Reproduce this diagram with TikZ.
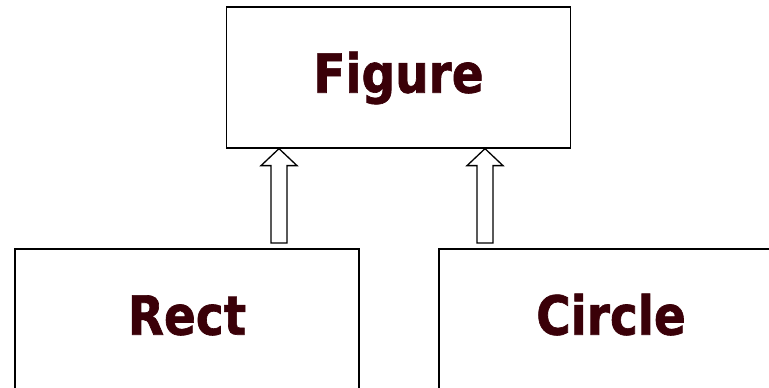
\documentclass[tikz,border=0pt]{standalone}
\usepackage{fontspec}
\newfontfamily\lblfont[FakeStretch=0.87,FakeBold=1.2]{DejaVu Sans}
\definecolor{txtcol}{HTML}{3A0008}
\tikzset{
  box/.style={draw=black, line width=1.3pt, fill=white, minimum width=344pt, minimum height=141pt,
    inner sep=0pt, font=\lblfont\bfseries\fontsize{54}{60}\selectfont, text=txtcol,
    text height=39.4pt, text depth=9pt},
  blockarrow/.style={draw=black, line width=1.3pt, fill=white, line join=miter}
}
\begin{document}
\begin{tikzpicture}[x=1pt,y=1pt]
\useasboundingbox (0,0) rectangle (769,388);
\node[box] (fig) at (398.5,310.5) {Figure};
\node[box] (rect) at (187,68.5) {Rect};
\node[box] (circ) at (611,68.5) {Circle};
\coordinate (b1) at (279,145);
\coordinate (t1) at (b1 |- fig.south);
\coordinate (b2) at (485,145);
\coordinate (t2) at (b2 |- fig.south);
\draw[blockarrow] ([xshift=-8pt]b1) -- ([xshift=-8pt,yshift=-17pt]t1) -- ([xshift=-18pt,yshift=-17pt]t1) -- (t1) -- ([xshift=18pt,yshift=-17pt]t1) -- ([xshift=8pt,yshift=-17pt]t1) -- ([xshift=8pt]b1) -- cycle;
\draw[blockarrow] ([xshift=-8pt]b2) -- ([xshift=-8pt,yshift=-17pt]t2) -- ([xshift=-18pt,yshift=-17pt]t2) -- (t2) -- ([xshift=18pt,yshift=-17pt]t2) -- ([xshift=8pt,yshift=-17pt]t2) -- ([xshift=8pt]b2) -- cycle;
\end{tikzpicture}
\end{document}
